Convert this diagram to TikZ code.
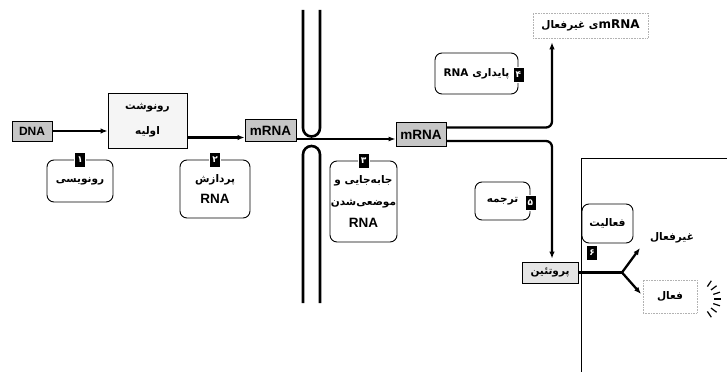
\documentclass[tikz,border=0pt]{standalone}
\usepackage{fontspec}
\setmainfont{Liberation Sans}
\newfontfamily\fa[Script=Arabic]{DejaVu Sans}
\TeXXeTstate=1
\usetikzlibrary{arrows.meta}
\newcommand{\fr}[1]{{\fa\bfseries\fontsize{10.5}{12}\selectfont\beginR #1\endR}}
\newcommand{\lt}[1]{{\bfseries\fontsize{12}{14}\selectfont #1}}
\newcommand{\bt}[1]{{\bfseries\fontsize{13.5}{15}\selectfont #1}}
\begin{document}
\begin{tikzpicture}[x=1pt,y=-1pt,
  every node/.style={inner sep=1pt},
  graybox/.style={draw, line width=0.8pt, fill=gray!45, inner sep=0pt},
  rbox/.style={draw, rounded corners=7pt, line width=0.9pt, fill=white, align=center, inner sep=0pt, font=\fontsize{10}{21}\selectfont},
  badge/.style={fill=black, draw=white, line width=0.6pt, text=white, minimum width=11pt, minimum height=15pt, inner sep=0pt, font=\fa\bfseries\fontsize{9}{9}\selectfont},
  conn/.style={line width=2.3pt, -{Latex[length=7pt,width=5.5pt]}},
  thinconn/.style={line width=1.4pt, -{Latex[length=7pt,width=5pt]}},
  membrane/.style={line width=2.6pt},
  dotbox/.style={draw=gray!60, densely dotted, line width=0.6pt, inner sep=0pt}]
\useasboundingbox (0,0) rectangle (727,377);

% membrane
\draw[membrane] (303,10) -- (303,128) arc (180:0:8.5) -- (320,10);
\draw[membrane] (303,303) -- (303,154.5) arc (180:360:8.5) -- (320,303);

% right panel
\draw[line width=0.8pt] (727,158) -- (581,158) -- (581,372);

% main nodes
\node[graybox, minimum width=40pt, minimum height=20pt] (dna) at (32,131) {\lt{DNA}};
\node[draw, line width=0.8pt, fill=gray!8, minimum width=79pt, minimum height=55pt, align=center, font=\fontsize{10}{25}\selectfont] (pt) at (147.5,120.5) {\fr{رونوشت}\\\fr{اولیه}};
\node[graybox, minimum width=51pt, minimum height=22pt] (m1) at (270.5,130.5) {\bt{mRNA}};
\node[graybox, minimum width=50pt, minimum height=24pt] (m2) at (421,134.5) {\bt{mRNA}};
\node[graybox, fill=gray!20, minimum width=56pt, minimum height=21pt] (prot) at (550,272.5) {\fr{پروتئین}};
\node[dotbox, minimum width=115pt, minimum height=25pt] (inact) at (590.5,25.5) {\fr{\lt{mRNA}ی غیرفعال}};
\node[dotbox, minimum width=54pt, minimum height=33pt] (act) at (670,296.5) {\fr{فعال}};
\node (inl) at (672,238) {\fr{غیرفعال}};

% connectors
\draw[conn] (dna.east) -- (dna.east -| pt.west);
\draw[conn] ([yshift=-17pt]pt.east) -- ([yshift=-17pt]pt.east -| m1.west);
\draw[thinconn] ([yshift=-8.5pt]m1.east) -- ([yshift=-8.5pt]m1.east -| m2.west);
\draw[conn, rounded corners=6pt, shorten >=4pt] ([yshift=7pt]m2.east) -| ([xshift=-38.5pt]inact.south);
\draw[conn, rounded corners=6pt, shorten >=3pt] ([yshift=-6.5pt]m2.east) -| ([xshift=2pt]prot.north);
\draw[line width=2.3pt] (prot.east) -- (622,272.5) coordinate (j);
\draw[conn] (j) -- (640,248);
\draw[conn] (j) -- (641,294);

% step boxes
\node[rbox, minimum width=66pt, minimum height=42pt] (b1) at (80,181) {\fr{رونویسی}};
\node[badge] (n1) at (b1.north) {۱};
\node[rbox, minimum width=70pt, minimum height=58pt] (b2) at (215,189) {\fr{پردازش}\\\bt{RNA}};
\node[badge] (n2) at (b2.north) {۲};
\node[rbox, minimum width=67pt, minimum height=81pt, font=\fontsize{10}{22}\selectfont] (b3) at (363.5,201.5) {\fr{جابه‌جایی و}\\\fr{موضعی‌شدن}\\\bt{RNA}};
\node[badge] (n3) at (b3.north) {۳};
\node[rbox, minimum width=83pt, minimum height=41pt] (b4) at (476.5,73.5) {\fr{پایداری \beginL RNA\endL}};
\node[badge] (n4) at ([yshift=-1.5pt]b4.east) {۴};
\node[rbox, minimum width=55pt, minimum height=38pt] (b5) at (502.5,201) {\fr{ترجمه}};
\node[badge] (n5) at ([yshift=-2pt]b5.east) {۵};
\node[rbox, minimum width=51pt, minimum height=39pt] (b6) at (607.5,223.5) {\fr{فعالیت}};
\node[badge] (n6) at (592,253) {۶};

% sparkle
\foreach \a in {-56,-37,-18,0,18,37,56}
  \draw[line width=1.2pt] (699,299) ++(\a:15) -- ++(\a:7);
\end{tikzpicture}
\end{document}
